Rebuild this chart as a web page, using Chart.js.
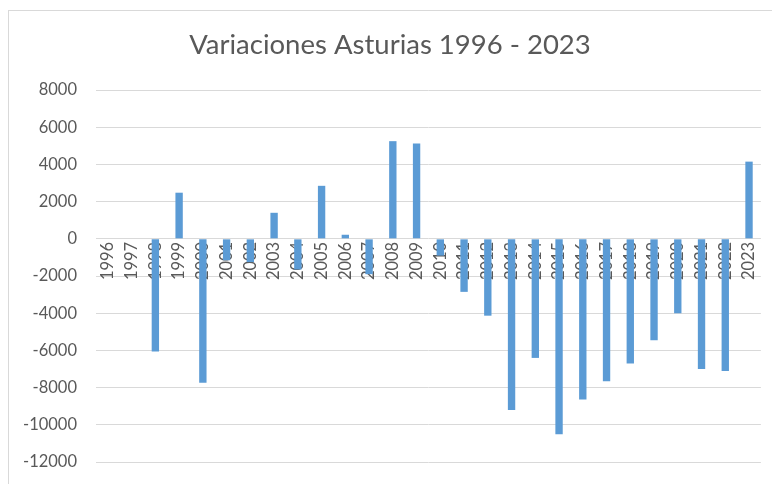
<!DOCTYPE html>
<html>
<head>
<meta charset="utf-8">
<script src="https://cdn.jsdelivr.net/npm/chart.js@4"></script>
<style>
  body { margin: 0; background: #fff; overflow: hidden; }
  #wrap { position: absolute; left: 0; top: 0; width: 772px; height: 491px; }
  #frame { position: absolute; left: 8px; top: 10px; width: 800px; height: 520px; border: 1px solid #d9d9d9; }
</style>
</head>
<body>
<div id="frame"></div>
<div id="wrap"><canvas id="chart" width="772" height="491"></canvas></div>
<script>
// Years shown on the category axis
const years = ["1996", "1997", "1998", "1999", "2000", "2001", "2002", "2003", "2004", "2005",
  "2006", "2007", "2008", "2009", "2010", "2011", "2012", "2013", "2014", "2015",
  "2016", "2017", "2018", "2019", "2020", "2021", "2022", "2023"];

// Yearly variation
const variaciones = [0, 0, -6050, 2480, -7740, -1150, -1250, 1400, -1650, 2850,
  220, -1900, 5250, 5130, -900, -2850, -4130, -9200, -6400, -10500,
  -8630, -7650, -6700, -5450, -4000, -7000, -7100, 4150];

// Value axis ticks
const yTicks = [-12000, -10000, -8000, -6000, -4000, -2000, 0, 2000, 4000, 6000, 8000];

const textColor = "#595959";
const gridColor = "#d9d9d9";

const ctx = document.getElementById("chart").getContext("2d");
new Chart(ctx, {
  type: "bar",
  data: {
    labels: years,
    datasets: [{
      label: "Variaciones",
      data: variaciones,
      backgroundColor: "#5B9BD5",
      borderWidth: 0,
      barPercentage: 0.31,
      categoryPercentage: 1
    }]
  },
  options: {
    responsive: false,
    animation: false,
    layout: { padding: { left: 18, right: 10, top: 0, bottom: 0 } },
    plugins: {
      legend: { display: false },
      tooltip: { enabled: false },
      title: {
        display: true,
        text: "Variaciones Asturias 1996 - 2023",
        color: textColor,
        font: { family: "Lato", size: 27.5, weight: "normal" },
        padding: { top: 29, bottom: 28 }
      }
    },
    scales: {
      x: {
        type: "category",
        position: { y: 0 },
        z: 1,
        grid: { display: false, drawTicks: false },
        border: { display: false },
        ticks: {
          autoSkip: false,
          minRotation: 90,
          maxRotation: 90,
          padding: 3,
          color: textColor,
          font: { family: "Lato", size: 16.5 }
        },
        afterFit: (axis) => { axis.height = 0; }
      },
      y: {
        min: -12000,
        max: 8000,
        grid: { color: gridColor, lineWidth: 1, drawTicks: false },
        border: { display: false },
        afterBuildTicks: (axis) => { axis.ticks = yTicks.map(v => ({ value: v })); },
        ticks: {
          padding: 19,
          color: textColor,
          font: { family: "Lato", size: 16.5 },
          callback: (v) => String(v)
        },
        afterFit: (axis) => { axis.width = 78; }
      }
    }
  }
});
</script>
</body>
</html>
